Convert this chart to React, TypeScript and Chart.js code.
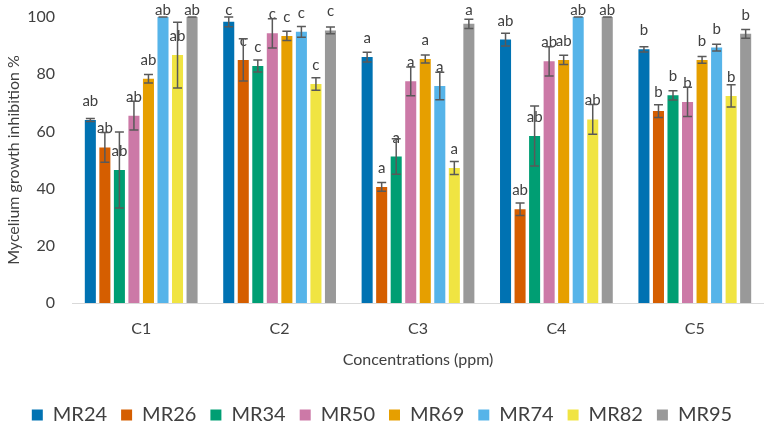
import React, { useEffect, useRef } from "react";
import { Chart, registerables } from "chart.js";

Chart.register(...registerables);

// Concentration groups on the x axis
const categories = ["C1", "C2", "C3", "C4", "C5"];

// Mean inhibition (%) per isolate, one value per concentration
const MR24 = [64.0, 98.3, 86.0, 92.1, 88.7];
const MR26 = [54.4, 85.0, 40.6, 32.8, 67.1];
const MR34 = [46.5, 82.9, 51.2, 58.4, 72.6];
const MR50 = [65.5, 94.3, 77.5, 84.5, 70.3];
const MR69 = [78.4, 93.4, 85.3, 85.0, 85.0];
const MR74 = [100, 94.8, 75.9, 100, 89.3];
const MR82 = [86.7, 76.6, 47.2, 64.2, 72.4];
const MR95 = [100, 95.3, 97.6, 100, 94.1];

// Standard deviation per isolate
const MR24_sd = [0.5, 1.7, 1.7, 2.2, 0.9];
const MR26_sd = [5.2, 7.4, 1.5, 2.2, 2.2];
const MR34_sd = [13.3, 2.1, 6.2, 10.5, 1.6];
const MR50_sd = [5.0, 5.1, 5.0, 5.1, 5.1];
const MR69_sd = [1.5, 1.6, 1.4, 1.6, 1.2];
const MR74_sd = [0, 1.9, 4.8, 0, 1.2];
const MR82_sd = [11.5, 2.2, 2.3, 5.2, 3.9];
const MR95_sd = [0, 1.2, 1.6, 0, 1.5];

// Significance letters per concentration group
const letters = ["ab", "c", "a", "ab", "b"];

// Y axis ticks
const yTicks = [0, 20, 40, 60, 80, 100];

const FONT = "Lato, 'Open Sans', sans-serif";
const TEXT = "#404040";

const series = [
  { name: "MR24", values: MR24, sd: MR24_sd, color: "#0072B2" },
  { name: "MR26", values: MR26, sd: MR26_sd, color: "#D55E00" },
  { name: "MR34", values: MR34, sd: MR34_sd, color: "#009E73" },
  { name: "MR50", values: MR50, sd: MR50_sd, color: "#CC79A7" },
  { name: "MR69", values: MR69, sd: MR69_sd, color: "#E69F00" },
  { name: "MR74", values: MR74, sd: MR74_sd, color: "#56B4E9" },
  { name: "MR82", values: MR82, sd: MR82_sd, color: "#F0E442" },
  { name: "MR95", values: MR95, sd: MR95_sd, color: "#999999" },
];

// Draws letters above each bar (kept inside the canvas) and the error bars on top
const errorBarsAndLetters = {
  id: "errorBarsAndLetters",
  afterDatasetsDraw(chart: any) {
    const ctx = chart.ctx;
    const yScale = chart.scales.y;
    ctx.save();
    series.forEach((s, i) => {
      const meta = chart.getDatasetMeta(i);
      meta.data.forEach((bar: any, j: number) => {
        ctx.fillStyle = TEXT;
        ctx.font = `15px ${FONT}`;
        ctx.textAlign = "center";
        ctx.textBaseline = "alphabetic";
        ctx.fillText(letters[j], bar.x, Math.max(bar.y - 14, 15));
      });
    });
    series.forEach((s, i) => {
      const meta = chart.getDatasetMeta(i);
      meta.data.forEach((bar: any, j: number) => {
        const v = s.values[j];
        const e = s.sd[j];
        const top = yScale.getPixelForValue(v + e);
        const bot = yScale.getPixelForValue(v - e);
        const x = bar.x;
        const half = 4.5;
        ctx.strokeStyle = "#595959";
        ctx.lineWidth = 1.5;
        ctx.beginPath();
        ctx.moveTo(x, top);
        ctx.lineTo(x, bot);
        ctx.moveTo(x - half, top);
        ctx.lineTo(x + half, top);
        ctx.moveTo(x - half, bot);
        ctx.lineTo(x + half, bot);
        ctx.stroke();
      });
    });
    ctx.restore();
  },
};

export default function App() {
  const canvasRef = useRef<HTMLCanvasElement | null>(null);

  useEffect(() => {
    if (!canvasRef.current) return;
    const chart = new Chart(canvasRef.current, {
      type: "bar",
      data: {
        labels: categories,
        datasets: series.map((s) => ({
          label: s.name,
          data: s.values,
          backgroundColor: s.color,
          borderWidth: 0,
          categoryPercentage: 0.84,
          barPercentage: 0.76,
        })),
      },
      options: {
        animation: false,
        responsive: true,
        maintainAspectRatio: false,
        layout: { padding: { left: 0, right: 0, top: 17, bottom: -11 } },
        plugins: {
          tooltip: { enabled: false },
          legend: {
            position: "bottom",
            labels: {
              boxWidth: 11,
              boxHeight: 11,
              padding: 14,
              color: TEXT,
              font: { family: FONT, size: 20 },
            },
          },
        },
        scales: {
          x: {
            grid: { display: false, drawTicks: false },
            border: { display: true, color: "#d9d9d9", width: 1 },
            ticks: { color: TEXT, font: { family: FONT, size: 16 }, padding: 16 },
            title: {
              display: true,
              text: "Concentrations (ppm)",
              color: TEXT,
              font: { family: FONT, size: 16 },
              padding: { top: 4, bottom: 22 },
            },
            afterFit(scale: any) {
              scale.height = 88;
            },
          },
          y: {
            min: 0,
            max: 100,
            grid: { display: false, drawTicks: false },
            border: { display: false },
            afterBuildTicks(scale: any) {
              scale.ticks = yTicks.map((v) => ({ value: v }));
            },
            ticks: { color: TEXT, font: { family: FONT, size: 16 }, padding: 17 },
            title: {
              display: true,
              text: "Mycelium growth inhibition %",
              color: TEXT,
              font: { family: FONT, size: 16 },
              padding: { top: 4, bottom: 0 },
            },
            afterFit(scale: any) {
              scale.width = 72;
              scale.paddingTop = 0;
              scale.paddingBottom = 0;
            },
          },
        },
      },
      plugins: [errorBarsAndLetters],
    });
    return () => chart.destroy();
  }, []);

  return (
    <div style={{ position: "fixed", left: 0, top: 0, width: 764, height: 424 }}>
      <canvas ref={canvasRef} />
    </div>
  );
}
